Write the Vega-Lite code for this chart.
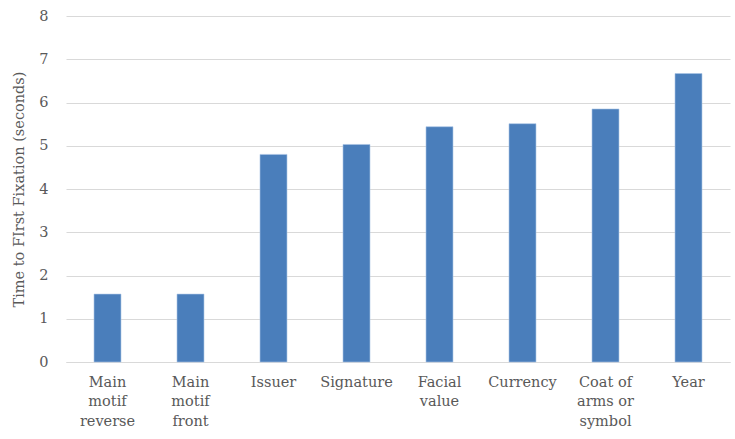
{
  "$schema": "https://vega.github.io/schema/vega-lite/v6.json",
  "autosize": {"type": "none"},
  "width": 664,
  "height": 346,
  "padding": {"left": 66, "top": 16, "right": 5, "bottom": 77},
  "background": "white",
  "config": {
    "view": {"stroke": null},
    "font": "DejaVu Serif",
    "axis": {
      "labelFont": "DejaVu Serif",
      "titleFont": "DejaVu Serif",
      "labelColor": "#595959",
      "titleColor": "#595959",
      "labelFontSize": 14.5,
      "titleFontSize": 14.5,
      "titleFontWeight": "normal"
    }
  },
  "data": {
    "values": [
      {"element": "Main motif reverse", "ttff": 1.57},
      {"element": "Main motif front", "ttff": 1.57},
      {"element": "Issuer", "ttff": 4.8},
      {"element": "Signature", "ttff": 5.03},
      {"element": "Facial value", "ttff": 5.44},
      {"element": "Currency", "ttff": 5.51},
      {"element": "Coat of arms or symbol", "ttff": 5.85},
      {"element": "Year", "ttff": 6.67}
    ]
  },
  "mark": {"type": "bar", "color": "#4a7ebb", "stroke": "#a9c4e6", "strokeWidth": 0.6},
  "encoding": {
    "x": {
      "field": "element",
      "type": "nominal",
      "sort": null,
      "scale": {"paddingInner": 0.675, "paddingOuter": 0.3375},
      "axis": {
        "title": null,
        "labelAngle": 0,
        "ticks": false,
        "domainColor": "#d9d9d9",
        "domainWidth": 1,
        "labelPadding": 13,
        "labelLineHeight": 19.5,
        "labelBaseline": "top",
        "labelExpr": "datum.value == 'Main motif reverse' ? ['Main', 'motif', 'reverse'] : datum.value == 'Main motif front' ? ['Main', 'motif', 'front'] : datum.value == 'Facial value' ? ['Facial', 'value'] : datum.value == 'Coat of arms or symbol' ? ['Coat of', 'arms or', 'symbol'] : datum.value"
      }
    },
    "y": {
      "field": "ttff",
      "type": "quantitative",
      "scale": {"domain": [0, 8], "nice": false},
      "axis": {
        "title": "Time to FIrst Fixation (seconds)",
        "values": [0, 1, 2, 3, 4, 5, 6, 7, 8],
        "ticks": false,
        "domain": false,
        "gridColor": "#d9d9d9",
        "gridWidth": 1,
        "labelPadding": 18,
        "titlePadding": 12
      }
    }
  }
}
